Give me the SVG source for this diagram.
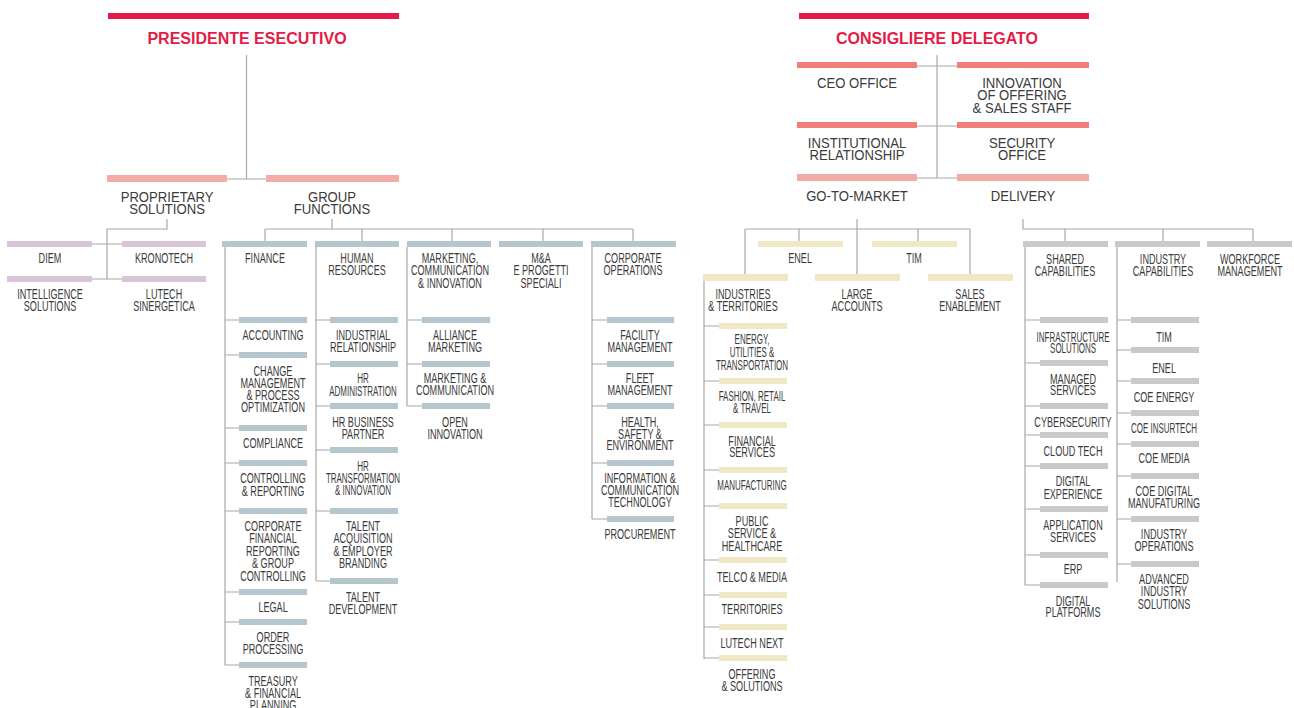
<svg xmlns="http://www.w3.org/2000/svg" width="1294" height="708" viewBox="0 0 1294 708">
<style>
text{font-family:"Liberation Sans",Arial,sans-serif;fill:#3b3b3b;text-anchor:middle}
.t{font-size:16px;font-weight:bold;fill:#E31C47}
.m{font-size:15px;transform-box:fill-box;transform-origin:center;transform:scaleX(.875)}
.s{font-size:14px;transform-box:fill-box;transform-origin:center;transform:scaleX(.65)}
.n{font-size:14px;transform-box:fill-box;transform-origin:center;transform:scaleX(.57)}
.red{fill:#E31C47}.pk{fill:#F4AAA5}.co{fill:#F07F79}.pu{fill:#D9C5D8}.bl{fill:#B6C6CE}.cr{fill:#F0E7C4}.gr{fill:#C9C9C9}
#conn path{fill:none;stroke:#A8A8A8;stroke-width:1.2}
</style>
<rect width="1294" height="708" fill="#fff"/>
<g id="conn">
<path d="M246.5 55V179M227 179H266"/>
<path d="M167 219V229H107V279M92 244H122M92 279H122"/>
<path d="M332 219V229M265 229H633M265 229V241M362 229V241M452 229V241M543 229V241M633 229V241"/>
<path d="M225 247V665M225 320H239M225 355H239M225 428H239M225 463H239M225 511H239M225 592H239M225 622H239M225 665H239"/>
<path d="M316 247V581M316 320H330M316 364H330M316 406H330M316 450H330M316 511H330M316 581H330"/>
<path d="M407 247V406M407 320H422M407 364H422M407 406H422"/>
<path d="M592 247V519M592 320H607M592 364H607M592 406H607M592 463H607M592 519H607"/>
<path d="M937 55V178M917 66H957M917 126H957M917 178H957"/>
<path d="M857 219V274M745 229H970M745 229V274M799 229V241M918 229V241M970 229V274"/>
<path d="M704 281V659M704 326H719M704 381H719M704 425H719M704 470H719M704 506H719M704 560H719M704 595H719M704 627H719M704 658H719"/>
<path d="M1023 219V229H1253M1065 229V241M1163 229V241M1253 229V241"/>
<path d="M1025 247V585M1025 320H1040M1025 363H1040M1025 406H1040M1025 435H1040M1025 466H1040M1025 509H1040M1025 555H1040M1025 585H1040"/>
<path d="M1117 247V582M1117 320H1131M1117 350H1131M1117 381H1131M1117 413H1131M1117 444H1131M1117 476H1131M1117 519H1131M1117 564H1131"/>
</g>

<!-- LEFT -->
<g id="n-pres"><rect class="red" x="108" y="13" width="291" height="6"/><text class="t" x="247" y="44">PRESIDENTE ESECUTIVO</text></g>
<g id="n-ps"><rect class="pk" x="107" y="175" width="120" height="7"/><text class="m"><tspan x="167" y="202">PROPRIETARY</tspan><tspan x="167" y="214">SOLUTIONS</tspan></text></g>
<g id="n-gf"><rect class="pk" x="266" y="175" width="133" height="7"/><text class="m"><tspan x="332" y="202">GROUP</tspan><tspan x="332" y="214">FUNCTIONS</tspan></text></g>
<g id="n-diem"><rect class="pu" x="7" y="241" width="85" height="6"/><text class="s" x="50" y="263">DIEM</text></g>
<g id="n-kronotech"><rect class="pu" x="122" y="241" width="84" height="6"/><text class="s" x="164" y="263">KRONOTECH</text></g>
<g id="n-intel"><rect class="pu" x="7" y="276" width="85" height="6"/><text class="s"><tspan x="50" y="299">INTELLIGENCE</tspan><tspan x="50" y="311">SOLUTIONS</tspan></text></g>
<g id="n-lutech"><rect class="pu" x="122" y="276" width="84" height="6"/><text class="s"><tspan x="164" y="299">LUTECH</tspan><tspan x="164" y="311">SINERGETICA</tspan></text></g>

<g id="n-finance"><rect class="bl" x="222" y="241" width="85" height="6"/><text class="s" x="265" y="263">FINANCE</text></g>
<g id="n-hr"><rect class="bl" x="315" y="241" width="84" height="6"/><text class="s"><tspan x="357" y="263">HUMAN</tspan><tspan x="357" y="275">RESOURCES</tspan></text></g>
<g id="n-mkt"><rect class="bl" x="407" y="241" width="84" height="6"/><text class="s"><tspan x="450" y="263">MARKETING,</tspan><tspan x="450" y="275.5">COMMUNICATION</tspan><tspan x="450" y="288">&amp; INNOVATION</tspan></text></g>
<g id="n-ma"><rect class="bl" x="499" y="241" width="84" height="6"/><text class="s"><tspan x="541" y="263">M&amp;A</tspan><tspan x="541" y="275.5">E PROGETTI</tspan><tspan x="541" y="288">SPECIALI</tspan></text></g>
<g id="n-co"><rect class="bl" x="591" y="241" width="85" height="6"/><text class="s"><tspan x="633" y="263">CORPORATE</tspan><tspan x="633" y="275">OPERATIONS</tspan></text></g>

<g id="n-accounting"><rect class="bl" x="239" y="317" width="68" height="6"/><text class="s" x="273" y="340">ACCOUNTING</text></g>
<g id="n-change"><rect class="bl" x="239" y="352" width="68" height="6"/><text class="s"><tspan x="273" y="376">CHANGE</tspan><tspan x="273" y="388">MANAGEMENT</tspan><tspan x="273" y="400">&amp; PROCESS</tspan><tspan x="273" y="412">OPTIMIZATION</tspan></text></g>
<g id="n-compliance"><rect class="bl" x="239" y="425" width="68" height="6"/><text class="s" x="273" y="448">COMPLIANCE</text></g>
<g id="n-controlling"><rect class="bl" x="239" y="460" width="68" height="6"/><text class="s"><tspan x="273" y="483">CONTROLLING</tspan><tspan x="273" y="496">&amp; REPORTING</tspan></text></g>
<g id="n-cfr"><rect class="bl" x="239" y="508" width="68" height="6"/><text class="s"><tspan x="273" y="531">CORPORATE</tspan><tspan x="273" y="543.5">FINANCIAL</tspan><tspan x="273" y="556">REPORTING</tspan><tspan x="273" y="568">&amp; GROUP</tspan><tspan x="273" y="581">CONTROLLING</tspan></text></g>
<g id="n-legal"><rect class="bl" x="239" y="589" width="68" height="6"/><text class="s" x="273" y="612">LEGAL</text></g>
<g id="n-order"><rect class="bl" x="239" y="619" width="68" height="6"/><text class="s"><tspan x="273" y="642">ORDER</tspan><tspan x="273" y="654">PROCESSING</tspan></text></g>
<g id="n-treasury"><rect class="bl" x="239" y="662" width="68" height="6"/><text class="s"><tspan x="273" y="686">TREASURY</tspan><tspan x="273" y="698">&amp; FINANCIAL</tspan><tspan x="273" y="710">PLANNING</tspan></text></g>

<g id="n-industrial"><rect class="bl" x="330" y="317" width="68" height="6"/><text class="s"><tspan x="363" y="340">INDUSTRIAL</tspan><tspan x="363" y="352">RELATIONSHIP</tspan></text></g>
<g id="n-hradmin"><rect class="bl" x="330" y="361" width="68" height="6"/><text class="n"><tspan x="363" y="383">HR</tspan><tspan x="363" y="396">ADMINISTRATION</tspan></text></g>
<g id="n-hrbp"><rect class="bl" x="330" y="403" width="68" height="6"/><text class="s"><tspan x="363" y="427">HR BUSINESS</tspan><tspan x="363" y="439">PARTNER</tspan></text></g>
<g id="n-hrtrans"><rect class="bl" x="330" y="447" width="68" height="6"/><text class="n"><tspan x="363" y="471">HR</tspan><tspan x="363" y="483">TRANSFORMATION</tspan><tspan x="363" y="495">&amp; INNOVATION</tspan></text></g>
<g id="n-talentacq"><rect class="bl" x="330" y="508" width="68" height="6"/><text class="s"><tspan x="363" y="531">TALENT</tspan><tspan x="363" y="543">ACQUISITION</tspan><tspan x="363" y="556">&amp; EMPLOYER</tspan><tspan x="363" y="568">BRANDING</tspan></text></g>
<g id="n-talentdev"><rect class="bl" x="330" y="578" width="68" height="6"/><text class="s"><tspan x="363" y="602">TALENT</tspan><tspan x="363" y="614">DEVELOPMENT</tspan></text></g>

<g id="n-alliance"><rect class="bl" x="422" y="317" width="68" height="6"/><text class="s"><tspan x="455" y="340">ALLIANCE</tspan><tspan x="455" y="352">MARKETING</tspan></text></g>
<g id="n-mktcomm"><rect class="bl" x="422" y="361" width="68" height="6"/><text class="s"><tspan x="455" y="383">MARKETING &amp;</tspan><tspan x="455" y="395">COMMUNICATION</tspan></text></g>
<g id="n-open"><rect class="bl" x="422" y="403" width="68" height="6"/><text class="s"><tspan x="455" y="427">OPEN</tspan><tspan x="455" y="439">INNOVATION</tspan></text></g>

<g id="n-facility"><rect class="bl" x="607" y="317" width="67" height="6"/><text class="s"><tspan x="640" y="340">FACILITY</tspan><tspan x="640" y="352">MANAGEMENT</tspan></text></g>
<g id="n-fleet"><rect class="bl" x="607" y="361" width="67" height="6"/><text class="s"><tspan x="640" y="383">FLEET</tspan><tspan x="640" y="395">MANAGEMENT</tspan></text></g>
<g id="n-health"><rect class="bl" x="607" y="403" width="67" height="6"/><text class="s"><tspan x="640" y="427">HEALTH,</tspan><tspan x="640" y="439">SAFETY &amp;</tspan><tspan x="640" y="450">ENVIRONMENT</tspan></text></g>
<g id="n-ict"><rect class="bl" x="607" y="460" width="67" height="6"/><text class="s"><tspan x="640" y="483">INFORMATION &amp;</tspan><tspan x="640" y="495">COMMUNICATION</tspan><tspan x="640" y="507">TECHNOLOGY</tspan></text></g>
<g id="n-procurement"><rect class="bl" x="607" y="516" width="67" height="6"/><text class="s" x="640" y="539">PROCUREMENT</text></g>

<!-- RIGHT -->
<g id="n-cd"><rect class="red" x="799" y="13" width="290" height="6"/><text class="t" x="937" y="44">CONSIGLIERE DELEGATO</text></g>
<g id="n-ceo"><rect class="co" x="797" y="62" width="120" height="6"/><text class="m" x="857" y="88">CEO OFFICE</text></g>
<g id="n-innov"><rect class="co" x="957" y="62" width="132" height="6"/><text class="m"><tspan x="1022" y="88">INNOVATION</tspan><tspan x="1022" y="100.5">OF OFFERING</tspan><tspan x="1022" y="113">&amp; SALES STAFF</tspan></text></g>
<g id="n-inst"><rect class="co" x="797" y="122" width="120" height="6"/><text class="m"><tspan x="857" y="148">INSTITUTIONAL</tspan><tspan x="857" y="160">RELATIONSHIP</tspan></text></g>
<g id="n-sec"><rect class="co" x="957" y="122" width="132" height="6"/><text class="m"><tspan x="1022" y="148">SECURITY</tspan><tspan x="1022" y="160">OFFICE</tspan></text></g>
<g id="n-gtm"><rect class="pk" x="797" y="174" width="120" height="7"/><text class="m" x="857" y="201">GO-TO-MARKET</text></g>
<g id="n-delivery"><rect class="pk" x="957" y="174" width="132" height="7"/><text class="m" x="1023" y="201">DELIVERY</text></g>

<g id="n-enel"><rect class="cr" x="758" y="241" width="85" height="6"/><text class="s" x="800" y="263">ENEL</text></g>
<g id="n-tim"><rect class="cr" x="872" y="241" width="85" height="6"/><text class="s" x="914" y="263">TIM</text></g>
<g id="n-industries"><rect class="cr" x="703" y="274" width="85" height="7"/><text class="s"><tspan x="743" y="299">INDUSTRIES</tspan><tspan x="743" y="311">&amp; TERRITORIES</tspan></text></g>
<g id="n-large"><rect class="cr" x="815" y="274" width="85" height="7"/><text class="s"><tspan x="857" y="299">LARGE</tspan><tspan x="857" y="311">ACCOUNTS</tspan></text></g>
<g id="n-sales"><rect class="cr" x="928" y="274" width="85" height="7"/><text class="s"><tspan x="970" y="299">SALES</tspan><tspan x="970" y="311">ENABLEMENT</tspan></text></g>

<g id="n-energy"><rect class="cr" x="719" y="323" width="68" height="6"/><text class="n"><tspan x="752" y="344">ENERGY,</tspan><tspan x="752" y="357">UTILITIES &amp;</tspan><tspan x="752" y="370">TRANSPORTATION</tspan></text></g>
<g id="n-fashion"><rect class="cr" x="719" y="378" width="68" height="6"/><text class="n"><tspan x="752" y="401">FASHION, RETAIL</tspan><tspan x="752" y="413">&amp; TRAVEL</tspan></text></g>
<g id="n-financial"><rect class="cr" x="719" y="422" width="68" height="6"/><text class="s"><tspan x="752" y="446">FINANCIAL</tspan><tspan x="752" y="457">SERVICES</tspan></text></g>
<g id="n-manufacturing"><rect class="cr" x="719" y="467" width="68" height="6"/><text class="n" x="752" y="490">MANUFACTURING</text></g>
<g id="n-public"><rect class="cr" x="719" y="503" width="68" height="6"/><text class="s"><tspan x="752" y="526">PUBLIC</tspan><tspan x="752" y="538">SERVICE &amp;</tspan><tspan x="752" y="551">HEALTHCARE</tspan></text></g>
<g id="n-telco"><rect class="cr" x="719" y="557" width="68" height="6"/><text class="s" x="752" y="582">TELCO &amp; MEDIA</text></g>
<g id="n-territories"><rect class="cr" x="719" y="592" width="68" height="6"/><text class="s" x="752" y="614">TERRITORIES</text></g>
<g id="n-lutechnext"><rect class="cr" x="719" y="624" width="68" height="6"/><text class="s" x="752" y="648">LUTECH NEXT</text></g>
<g id="n-offering"><rect class="cr" x="719" y="655" width="68" height="6"/><text class="s"><tspan x="752" y="679">OFFERING</tspan><tspan x="752" y="691">&amp; SOLUTIONS</tspan></text></g>

<g id="n-shared"><rect class="gr" x="1023" y="241" width="85" height="6"/><text class="s"><tspan x="1065" y="264">SHARED</tspan><tspan x="1065" y="276">CAPABILITIES</tspan></text></g>
<g id="n-indcap"><rect class="gr" x="1115" y="241" width="85" height="6"/><text class="s"><tspan x="1163" y="264">INDUSTRY</tspan><tspan x="1163" y="276">CAPABILITIES</tspan></text></g>
<g id="n-workforce"><rect class="gr" x="1207" y="241" width="85" height="6"/><text class="s"><tspan x="1250" y="264">WORKFORCE</tspan><tspan x="1250" y="276">MANAGEMENT</tspan></text></g>

<g id="n-infra"><rect class="gr" x="1040" y="317" width="68" height="6"/><text class="n"><tspan x="1073" y="342">INFRASTRUCTURE</tspan><tspan x="1073" y="353">SOLUTIONS</tspan></text></g>
<g id="n-managed"><rect class="gr" x="1040" y="360" width="68" height="6"/><text class="s"><tspan x="1073" y="384">MANAGED</tspan><tspan x="1073" y="395">SERVICES</tspan></text></g>
<g id="n-cyber"><rect class="gr" x="1040" y="403" width="68" height="6"/><text class="s" x="1073" y="427">CYBERSECURITY</text></g>
<g id="n-cloud"><rect class="gr" x="1040" y="432" width="68" height="6"/><text class="s" x="1073" y="456">CLOUD TECH</text></g>
<g id="n-digexp"><rect class="gr" x="1040" y="463" width="68" height="6"/><text class="s"><tspan x="1073" y="486">DIGITAL</tspan><tspan x="1073" y="499">EXPERIENCE</tspan></text></g>
<g id="n-app"><rect class="gr" x="1040" y="506" width="68" height="6"/><text class="s"><tspan x="1073" y="530">APPLICATION</tspan><tspan x="1073" y="542">SERVICES</tspan></text></g>
<g id="n-erp"><rect class="gr" x="1040" y="552" width="68" height="6"/><text class="s" x="1073" y="574">ERP</text></g>
<g id="n-digplat"><rect class="gr" x="1040" y="582" width="68" height="6"/><text class="s"><tspan x="1073" y="606">DIGITAL</tspan><tspan x="1073" y="617">PLATFORMS</tspan></text></g>

<g id="n-ic-tim"><rect class="gr" x="1131" y="317" width="68" height="6"/><text class="s" x="1164" y="342">TIM</text></g>
<g id="n-ic-enel"><rect class="gr" x="1131" y="347" width="68" height="6"/><text class="s" x="1164" y="373">ENEL</text></g>
<g id="n-coe-energy"><rect class="gr" x="1131" y="378" width="68" height="6"/><text class="s" x="1164" y="402">COE ENERGY</text></g>
<g id="n-coe-insurtech"><rect class="gr" x="1131" y="410" width="68" height="6"/><text class="n" x="1164" y="433">COE INSURTECH</text></g>
<g id="n-coe-media"><rect class="gr" x="1131" y="441" width="68" height="6"/><text class="s" x="1164" y="463">COE MEDIA</text></g>
<g id="n-coe-digital"><rect class="gr" x="1131" y="473" width="68" height="6"/><text class="s"><tspan x="1164" y="496">COE DIGITAL</tspan><tspan x="1164" y="508">MANUFATURING</tspan></text></g>
<g id="n-indops"><rect class="gr" x="1131" y="516" width="68" height="6"/><text class="s"><tspan x="1164" y="539">INDUSTRY</tspan><tspan x="1164" y="551">OPERATIONS</tspan></text></g>
<g id="n-advanced"><rect class="gr" x="1131" y="561" width="68" height="6"/><text class="s"><tspan x="1164" y="584">ADVANCED</tspan><tspan x="1164" y="596">INDUSTRY</tspan><tspan x="1164" y="609">SOLUTIONS</tspan></text></g>
</svg>
